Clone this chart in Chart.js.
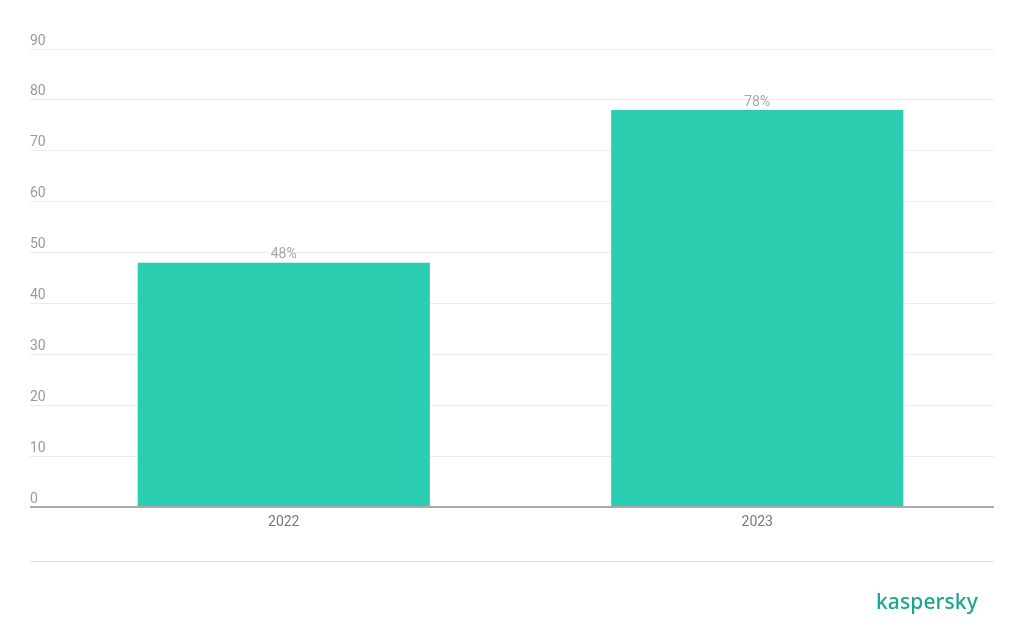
<!DOCTYPE html>
<html>
<head>
<meta charset="utf-8">
<script src="https://cdn.jsdelivr.net/npm/chart.js@4/dist/chart.umd.min.js"></script>
<style>
  html, body { margin: 0; padding: 0; background: #fff; }
  #wrap { position: relative; width: 1024px; height: 643px; }
  canvas { position: absolute; left: 0; top: 0; }
  #sep { position: absolute; left: 30px; top: 561px; width: 964px; height: 1px; background: #e0e0e0; }
  #logo { position: absolute; left: 876px; top: 587px; font-family: "Noto Sans", sans-serif; font-weight: 500; font-size: 21px; color: #1aa58f; letter-spacing: 0.1px; }
</style>
</head>
<body>
<div id="wrap">
  <canvas id="c" width="1024" height="643"></canvas>
  <div id="sep"></div>
  <div id="logo">kaspersky</div>
</div>
<script>
const categories = ['2022', '2023'];
const values = [48, 78];
const valueLabels = ['48%', '78%'];
const yTicks = [0, 10, 20, 30, 40, 50, 60, 70, 80, 90];

const barLabelPlugin = {
  id: 'barLabels',
  afterDatasetsDraw(chart) {
    const ctx = chart.ctx;
    const meta = chart.getDatasetMeta(0);
    ctx.save();
    ctx.font = '14px Roboto';
    ctx.fillStyle = '#a8a8a8';
    ctx.textAlign = 'center';
    ctx.textBaseline = 'middle';
    meta.data.forEach((bar, i) => {
      ctx.fillText(valueLabels[i], bar.x, bar.y - 8);
    });
    ctx.restore();
  }
};

new Chart(document.getElementById('c'), {
  type: 'bar',
  data: {
    labels: categories,
    datasets: [{
      data: values,
      backgroundColor: '#2bcdb1',
      borderWidth: 0,
      categoryPercentage: 1,
      barPercentage: 0.617
    }]
  },
  options: {
    responsive: false,
    animation: false,
    layout: { padding: { left: 30, right: 30, top: 49, bottom: 106 } },
    plugins: { legend: { display: false }, tooltip: { enabled: false } },
    scales: {
      x: {
        grid: { display: false, drawTicks: false },
        border: { display: false },
        ticks: { color: '#777', font: { family: 'Roboto', size: 14 }, padding: 7 },
        afterFit(scale) { scale.height = 30; }
      },
      y: {
        min: 0,
        max: 90,
        afterBuildTicks(scale) { scale.ticks = yTicks.map(v => ({ value: v })); },
        grid: {
          drawTicks: true,
          tickLength: 17,
          color: (c) => (c.tick && c.tick.value === 0) ? '#aaaaaa' : '#ececec',
          tickColor: (c) => (c.tick && c.tick.value === 0) ? '#aaaaaa' : '#ececec',
          lineWidth: (c) => (c.tick && c.tick.value === 0) ? 2 : 1
        },
        border: { display: false },
        ticks: {
          mirror: true,
          padding: -17,
          labelOffset: -8,
          color: '#9a9a9a',
          font: { family: 'Roboto', size: 14 }
        },
        afterFit(scale) { scale.width = 17; }
      }
    }
  },
  plugins: [barLabelPlugin]
});
</script>
</body>
</html>
